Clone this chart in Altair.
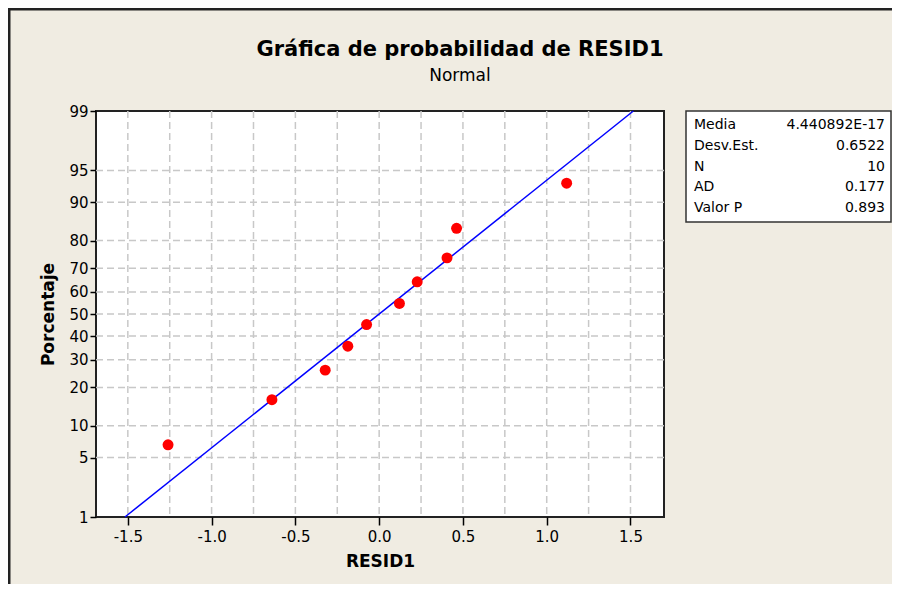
import altair as alt
import pandas as pd
from statistics import NormalDist

# ---- data ----
resid = [-1.26, -0.64, -0.322, -0.187, -0.075, 0.121, 0.227, 0.405, 0.462, 1.119]
pct = [6.7, 16.3, 26.0, 35.6, 45.2, 54.8, 64.4, 74.0, 83.7, 93.3]

media = 4.440892e-17
desv = 0.6522
fit_pct = [1, 99]

y_ticks = [1, 5, 10, 20, 30, 40, 50, 60, 70, 80, 90, 95, 99]
y_grid = [5, 10, 20, 30, 40, 50, 60, 70, 80, 90, 95]
x_ticks = [-1.5, -1.0, -0.5, 0.0, 0.5, 1.0, 1.5]
x_grid = [-1.5, -1.25, -1.0, -0.75, -0.5, -0.25, 0.0, 0.25, 0.5, 0.75, 1.0, 1.25, 1.5]

stat_names = ["Media", "Desv.Est.", "N", "AD", "Valor P"]
stat_values = ["4.440892E-17", "0.6522", "10", "0.177", "0.893"]

FONT = "DejaVu Sans"
nd = NormalDist()
z_ticks = [nd.inv_cdf(p / 100) for p in y_ticks]
zlo, zhi = z_ticks[0], z_ticks[-1]
xdom = [-1.69, 1.70]

W, H = 568, 406

xs = alt.Scale(domain=xdom, nice=False, zero=False)
ys = alt.Scale(domain=[zlo, zhi], nice=False, zero=False)

pts_df = pd.DataFrame({"resid": resid, "pct": pct})
fit_df = pd.DataFrame({"pct": fit_pct})
xg_df = pd.DataFrame({"x": x_grid})
yg_df = pd.DataFrame({"pct": y_grid})

y_label_expr = "format(cumulativeNormal(datum.value) * 100, '.0f')"
x_label_expr = "datum.value < -0.001 ? '-' + format(-datum.value, '.1f') : format(abs(datum.value), '.1f')"

x_axis = alt.Axis(values=x_ticks, labelExpr=x_label_expr, title="RESID1", grid=False,
                  domain=False, tickColor="black", tickSize=8, tickWidth=1.5,
                  labelFont=FONT, labelFontSize=15, labelColor="black",
                  labelOverlap=False, labelPadding=4, titleFont=FONT,
                  titleFontSize=17, titleFontWeight="bold", titleColor="black",
                  titlePadding=9)
y_axis = alt.Axis(values=z_ticks, labelExpr=y_label_expr, title="Porcentaje",
                  grid=False, domain=False, tickColor="black", tickSize=6,
                  tickWidth=1.5, labelFont=FONT, labelFontSize=15,
                  labelColor="black", labelPadding=2, labelOverlap=False,
                  labelSeparation=0, titleFont=FONT, titleFontSize=17,
                  titleFontWeight="bold", titleColor="black", titlePadding=11)

grid_style = dict(color="#C8C8C8", strokeWidth=1.5, strokeDash=[7, 4])

xgrid = alt.Chart(xg_df).mark_rule(**grid_style).encode(
    x=alt.X("x:Q", scale=xs, axis=x_axis)
)

ygrid = alt.Chart(yg_df).transform_calculate(
    z="quantileNormal(datum.pct / 100)"
).mark_rule(**grid_style).encode(
    y=alt.Y("z:Q", scale=ys, axis=y_axis)
)

fit_line = alt.Chart(fit_df).transform_calculate(
    z="quantileNormal(datum.pct / 100)",
    x=f"{media} + {desv} * quantileNormal(datum.pct / 100)"
).mark_line(color="#0000FF", strokeWidth=1.5).encode(
    x=alt.X("x:Q", scale=xs, axis=x_axis),
    y=alt.Y("z:Q", scale=ys, axis=y_axis),
)

points = alt.Chart(pts_df).transform_calculate(
    z="quantileNormal(datum.pct / 100)"
).mark_circle(color="#FF0000", opacity=1, size=120).encode(
    x=alt.X("resid:Q", scale=xs, axis=x_axis),
    y=alt.Y("z:Q", scale=ys, axis=y_axis),
)

main = alt.layer(xgrid, ygrid, fit_line, points)

# ---- statistics box ----
stats_df = pd.DataFrame({"name": stat_names, "val": stat_values})
box = alt.Chart(pd.DataFrame({"a": [0]})).mark_rect(
    fill="white", stroke="#333333", strokeWidth=1.5
).encode(x=alt.value(590), x2=alt.value(795), y=alt.value(0), y2=alt.value(111))

sy = alt.Y("name:N", sort=stat_names, axis=None,
           scale=alt.Scale(range=[3.5, 107.5], paddingInner=0, paddingOuter=0))
names_txt = alt.Chart(stats_df).mark_text(
    align="left", baseline="middle", font=FONT, fontSize=14, color="black"
).encode(x=alt.value(598), y=sy, text="name:N")
vals_txt = alt.Chart(stats_df).mark_text(
    align="right", baseline="middle", font=FONT, fontSize=14, color="black"
).encode(x=alt.value(789), y=sy, text="val:N")

stats = alt.layer(box, names_txt, vals_txt)

# ---- outer frame lines ----
frame_l = alt.Chart(pd.DataFrame({"a": [0]})).mark_rule(color="#222222", strokeWidth=3).encode(
    x=alt.value(-87), y=alt.value(-103), y2=alt.value(480))
frame_t = alt.Chart(pd.DataFrame({"a": [0]})).mark_rule(color="#222222", strokeWidth=3).encode(
    x=alt.value(-88), x2=alt.value(800), y=alt.value(-102))
frame = alt.layer(frame_l, frame_t)

chart = alt.layer(main, stats, frame).resolve_scale(y="independent").properties(
    width=W, height=H,
    title=alt.TitleParams(
        text="Gráfica de probabilidad de RESID1", subtitle="Normal",
        anchor="middle", frame="group", dx=80, offset=-77, font=FONT, fontSize=21,
        fontWeight="bold", color="black", subtitleFont=FONT, subtitleFontSize=17,
        subtitleColor="black", subtitlePadding=8),
    autosize=alt.AutoSizeParams(type="none"),
    padding={"left": 88, "top": 103, "right": 228, "bottom": 67},
    background="#F0ECE2",
    view=alt.ViewBackground(fill="white", stroke="#222222", strokeWidth=2),
).configure_view(
    fill="white", stroke="#222222", strokeWidth=2
).configure_axis(labelOverlap=False)

chart.save("out.html", embed_options={"renderer": "svg", "actions": False})
